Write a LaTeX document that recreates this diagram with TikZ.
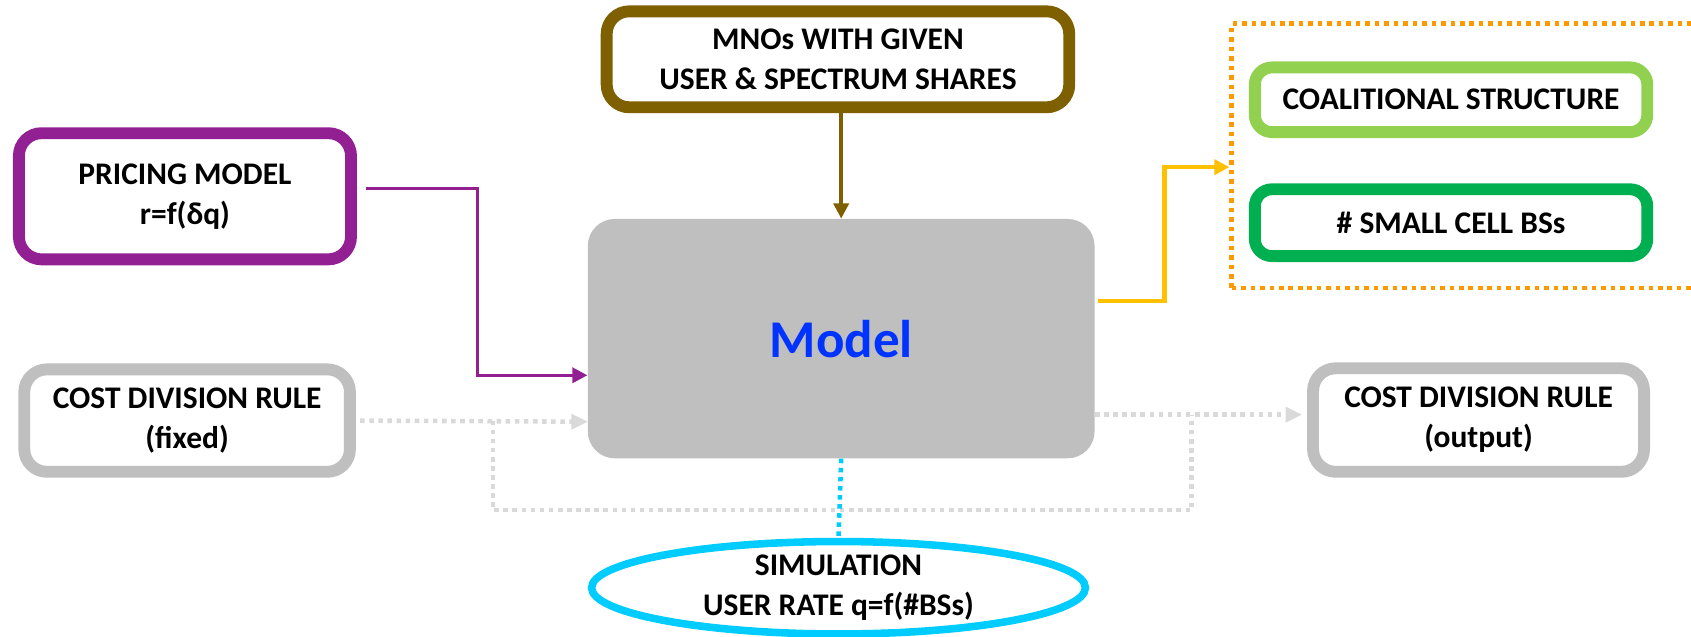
\documentclass[tikz,border=0pt]{standalone}
\usepackage{fontspec}
\setmainfont{Carlito}
\usetikzlibrary{arrows.meta,shapes.geometric}
\definecolor{cpurple}{RGB}{147,32,146}
\definecolor{cbrown}{RGB}{127,96,0}
\definecolor{cyel}{RGB}{255,192,0}
\definecolor{corange}{RGB}{255,153,0}
\definecolor{clgreen}{RGB}{146,208,80}
\definecolor{cgreen}{RGB}{0,176,80}
\definecolor{cgray}{RGB}{191,191,191}
\definecolor{cdot}{RGB}{217,217,217}
\definecolor{ccyan}{RGB}{0,204,255}
\definecolor{cblue}{RGB}{0,51,255}
\tikzset{
  txt/.style={font=\fontsize{16.6}{21}\selectfont\bfseries, align=center, text=black},
  boxthick/.style={txt, draw, rectangle, rounded corners=0.42cm, line width=0.22cm, fill=white, inner sep=0pt},
  conn/.style={line width=1.8pt, -{Triangle[length=0.28cm,width=0.28cm]}},
  dotconn/.style={line width=2.4pt, draw=cdot, dash pattern=on 2.4pt off 2.4pt},
}
\begin{document}
\begin{tikzpicture}[x=0.02cm,y=-0.02cm]
\useasboundingbox (0,0) rectangle (1568,590);

% main model block
\node[fill=cgray, rounded corners=0.5cm, minimum width=9.4cm, minimum height=4.44cm, inner sep=0pt,
      font=\fontsize{28}{32}\selectfont\bfseries, text=cblue] (model) at (780,314) {Model};

% input boxes
\node[boxthick, draw=cbrown, minimum width=8.58cm, minimum height=1.78cm] (mno) at (777,55)
  {MNOs WITH GIVEN\\USER \& SPECTRUM SHARES};
\node[boxthick, draw=cpurple, minimum width=6.16cm, minimum height=2.34cm] (pricing) at (171.5,182)
  {PRICING MODEL\\r=f(δq)};
\node[boxthick, draw=cgray, minimum width=6.04cm, minimum height=1.9cm] (costfixed) at (173.5,390)
  {COST DIVISION RULE\\(fixed)};

% output group
\node[draw=corange, line width=2.4pt, dash pattern=on 2.4pt off 2.6pt, rectangle,
      minimum width=8.76cm, minimum height=4.9cm, inner sep=0pt] (grp) at (1361,144.5) {};
\node[boxthick, draw=clgreen, rounded corners=0.32cm, minimum width=7.28cm, minimum height=1.2cm] (coal) at (1345.5,92.5)
  {COALITIONAL STRUCTURE};
\node[boxthick, draw=cgreen, rounded corners=0.32cm, minimum width=7.28cm, minimum height=1.24cm] (small) at (1345.5,206.5)
  {\# SMALL CELL BSs};
\node[boxthick, draw=cgray, minimum width=6.14cm, minimum height=1.92cm] (costout) at (1371,389.5)
  {COST DIVISION RULE\\(output)};

% simulation
\node[txt, ellipse, draw=ccyan, line width=0.14cm, fill=white, minimum width=9.16cm, minimum height=1.46cm, inner sep=0pt]
  (sim) at (777.5,545) {SIMULATION\\USER RATE q=f(\#BSs)};

% connectors
\draw[conn, draw=cbrown] (mno.south -| model.north) -- (model.north);

\coordinate (pj) at (443,260);
\draw[conn, draw=cpurple]
  ([xshift=0.16cm, yshift=0.14cm]pricing.east) -| (pj) |- ([yshift=-0.68cm]model.west);

\coordinate (oj) at (1080,220);
\draw[conn, draw=cyel, line width=2.4pt]
  ([xshift=0.06cm, yshift=0.7cm]model.east) -| (oj) |- ([yshift=-0.21cm]grp.west);

\coordinate (lj) at (457,473);
\coordinate (rj) at (1105,473);
\draw[dotconn] ([xshift=0.08cm]costfixed.east) -- ([yshift=-0.02cm,xshift=-0.12cm]costfixed.east -| model.west);
\fill[cdot] ([yshift=-0.02cm]costfixed.east -| model.west) -- ++(-0.3cm,0.15cm) -- ++(0,-0.3cm) -- cycle;
\draw[dotconn] (lj |- costfixed.east) -- (lj) -- (rj) -- ([yshift=0.1cm]rj |- costout.west);
\draw[dotconn] ([yshift=0.1cm]model.east |- costout.west) -- ([yshift=0.1cm,xshift=-0.3cm]costout.west);
\fill[cdot] ([yshift=0.1cm,xshift=-0.1cm]costout.west) -- ++(-0.3cm,0.15cm) -- ++(0,-0.3cm) -- cycle;

\draw[line width=2.4pt, draw=ccyan, dash pattern=on 2.4pt off 2.4pt] (model.south) -- (sim.north);
\end{tikzpicture}
\end{document}
